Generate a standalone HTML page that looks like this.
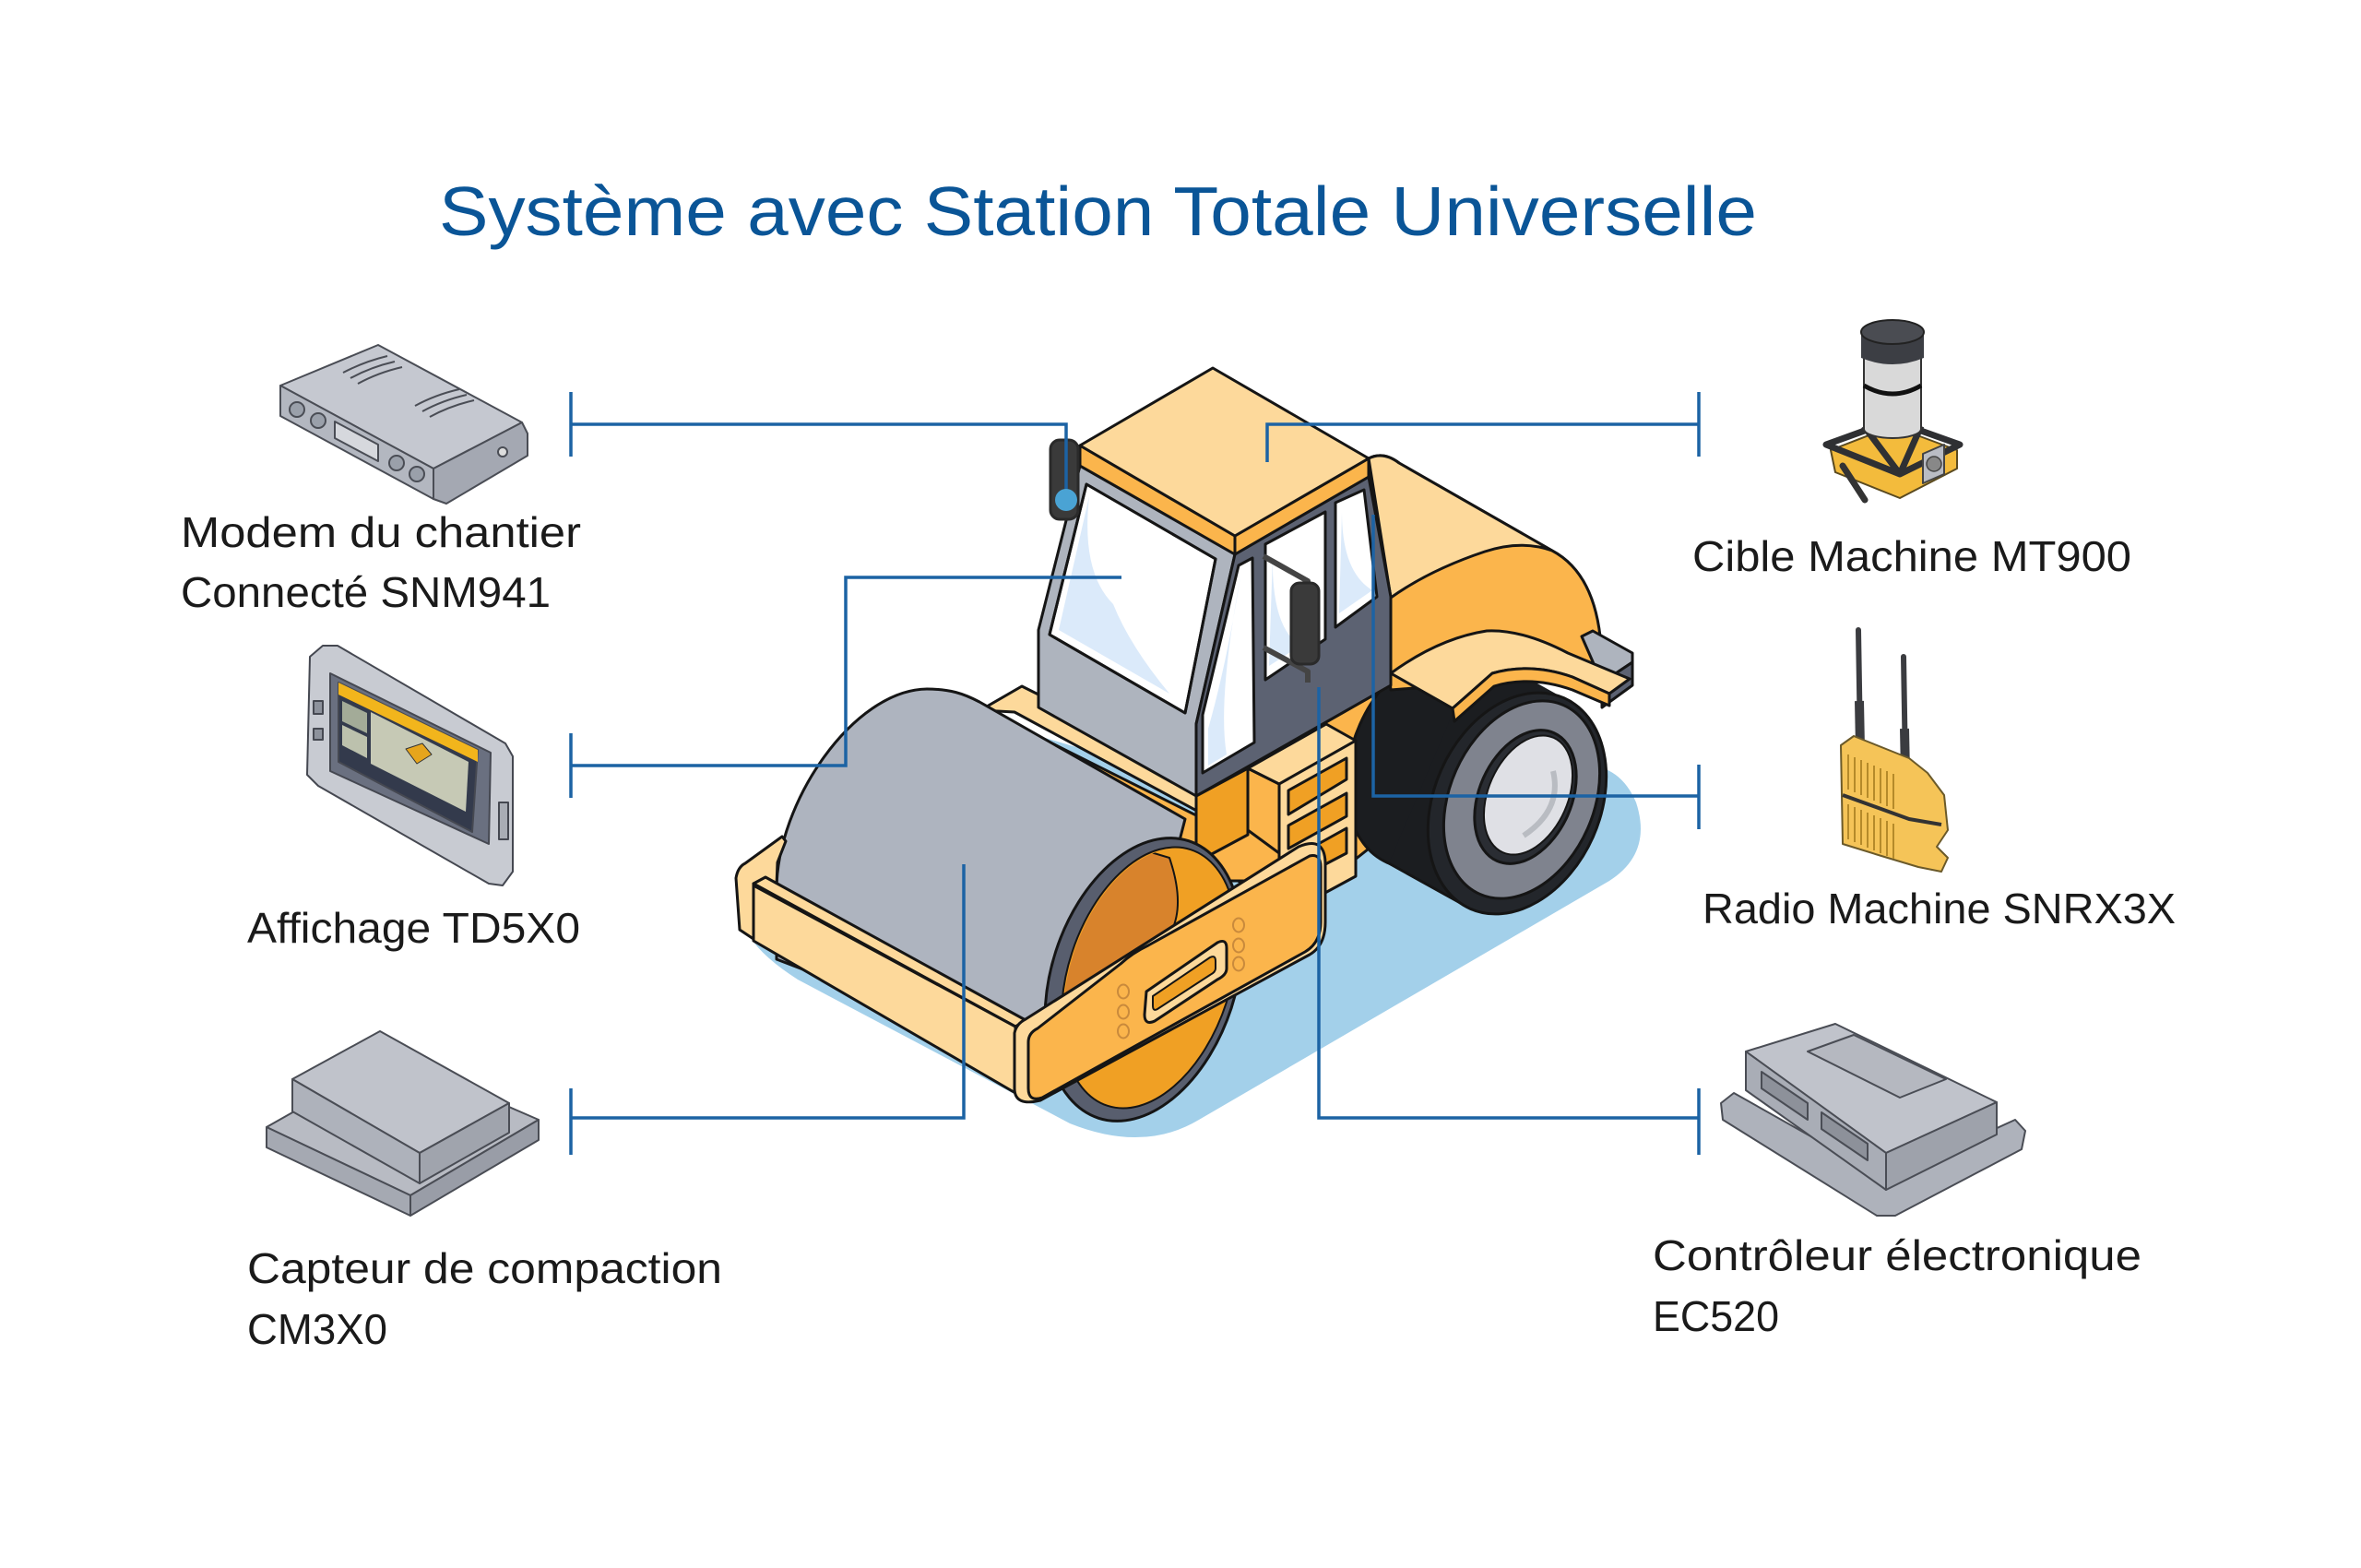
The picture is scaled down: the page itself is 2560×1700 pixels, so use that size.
<!DOCTYPE html>
<html><head><meta charset="utf-8"><style>html,body{margin:0;padding:0;background:#fff}svg{display:block}</style></head>
<body>
<svg xmlns="http://www.w3.org/2000/svg" width="2560" height="1700" viewBox="0 0 2560 1700" font-family="'Liberation Sans', 'DejaVu Sans', sans-serif">
<rect width="2560" height="1700" fill="#fff"/>

<text x="476" y="255" font-size="75" fill="#0a5597" textLength="1429" lengthAdjust="spacingAndGlyphs">Système avec Station Totale Universelle</text>

<g font-size="46" fill="#1a1a1a">
<text x="196" y="593" textLength="434" lengthAdjust="spacingAndGlyphs">Modem du chantier</text>
<text x="196" y="658" textLength="401" lengthAdjust="spacingAndGlyphs">Connecté SNM941</text>
<text x="268" y="1022" textLength="361" lengthAdjust="spacingAndGlyphs">Affichage TD5X0</text>
<text x="268" y="1391" textLength="515" lengthAdjust="spacingAndGlyphs">Capteur de compaction</text>
<text x="268" y="1457" textLength="152" lengthAdjust="spacingAndGlyphs">CM3X0</text>
<text x="1835" y="619" textLength="476" lengthAdjust="spacingAndGlyphs">Cible Machine MT900</text>
<text x="1846" y="1001" textLength="513" lengthAdjust="spacingAndGlyphs">Radio Machine SNRX3X</text>
<text x="1792" y="1377" textLength="530" lengthAdjust="spacingAndGlyphs">Contrôleur électronique</text>
<text x="1792" y="1443" textLength="137" lengthAdjust="spacingAndGlyphs">EC520</text>
</g>

<!-- ===== Devices left ===== -->
<!-- Modem -->
<g stroke="#4a4d55" stroke-width="2" stroke-linejoin="round">
<polygon points="304,418 410,374 566,458 470,508" fill="#c5c8d0"/>
<polygon points="304,418 470,508 470,541 304,451" fill="#b3b7c0"/>
<polygon points="470,508 566,458 572,470 572,494 484,546 470,541" fill="#a4a8b2"/>
<circle cx="322" cy="444" r="8" fill="#9aa0aa"/>
<circle cx="345" cy="456" r="8" fill="#9aa0aa"/>
<circle cx="430" cy="502" r="8" fill="#9aa0aa"/>
<circle cx="452" cy="514" r="8" fill="#9aa0aa"/>
<polygon points="363,457 410,482 410,500 363,475" fill="#d6d8dd"/>
<path d="M372,404 Q395,392 420,386 M380,410 Q402,398 428,392 M388,416 Q410,404 436,398 M450,440 Q472,428 498,422 M458,446 Q480,434 506,428 M466,452 Q488,440 514,434" fill="none"/>
<circle cx="545" cy="490" r="5" fill="#ddd"/>
</g>

<!-- Display TD5X0 -->
<g stroke="#454851" stroke-width="2" stroke-linejoin="round">
<polygon points="336,712 350,700 366,700 548,806 556,820 556,945 545,960 530,958 345,852 333,840" fill="#c8cbd2"/>
<polygon points="358,730 532,816 530,915 358,836" fill="#6a7080"/>
<polygon points="367,740 518,813 512,902 367,826" fill="#333a4c"/>
<polygon points="367,740 518,813 518,826 367,753" fill="#f2b51c" stroke="none"/>
<polygon points="402,772 508,826 505,880 402,828" fill="#c6c9b5" stroke="none"/>
<polygon points="371,760 398,773 398,795 371,782" fill="#a3ab98" stroke="none"/>
<polygon points="371,786 398,799 398,822 371,808" fill="#bcc1ad" stroke="none"/>
<polygon points="440,812 458,806 468,818 452,828" fill="#e6a51c" stroke="#333" stroke-width="1"/>
<rect x="340" y="760" width="10" height="14" fill="#8d929c"/>
<rect x="340" y="790" width="10" height="12" fill="#8d929c"/>
<rect x="541" y="870" width="10" height="40" fill="#a9adb5"/>
</g>

<!-- Compaction sensor -->
<g stroke="#4a4d55" stroke-width="2" stroke-linejoin="round">
<polygon points="289,1222 425,1145 584,1214 445,1296" fill="#b8bbc3"/>
<polygon points="289,1222 445,1296 445,1318 289,1244" fill="#a5a9b2"/>
<polygon points="445,1296 584,1214 584,1236 445,1318" fill="#999da7"/>
<polygon points="317,1170 412,1118 552,1196 455,1250" fill="#c0c3cb"/>
<polygon points="317,1170 455,1250 455,1283 317,1205" fill="#aeb2bb"/>
<polygon points="455,1250 552,1196 552,1228 455,1283" fill="#a0a4ad"/>
</g>

<!-- ===== Devices right ===== -->
<!-- MT900 -->
<g stroke-linejoin="round">
<polygon points="1985,488 2052,462 2122,488 2122,508 2060,540 1990,512" fill="#f3bb3c" stroke="#5a4a20" stroke-width="2"/>
<path d="M1980,482 L2052,456 L2125,482 L2060,514 Z M2021,462 L2060,514 M2083,462 L2060,514" fill="none" stroke="#2f3033" stroke-width="7"/>
<ellipse cx="2052" cy="465" rx="31" ry="10" fill="#d9d9d9" stroke="#333" stroke-width="2"/>
<rect x="2021" y="378" width="62" height="87" fill="#d9d9d9"/>
<path d="M2021,378 V465 M2083,378 V465" stroke="#333" stroke-width="2"/>
<path d="M2021,418 Q2052,436 2083,418" fill="none" stroke="#111" stroke-width="5"/>
<rect x="2018" y="360" width="68" height="28" fill="#3c3e44"/>
<path d="M2018,388 Q2052,402 2086,388" fill="#3c3e44"/>
<ellipse cx="2052" cy="360" rx="34" ry="13" fill="#4a4c52" stroke="#222" stroke-width="2"/>
<line x1="1998" y1="505" x2="2022" y2="542" stroke="#333" stroke-width="7" stroke-linecap="round"/>
<polygon points="2085,492 2108,482 2108,514 2085,524" fill="#b9bcc4" stroke="#444" stroke-width="2"/>
<circle cx="2097" cy="503" r="8" fill="#888" stroke="#444" stroke-width="1.5"/>
</g>

<!-- Radio SNRX3X -->
<g stroke-linejoin="round">
<line x1="2015" y1="683" x2="2017" y2="805" stroke="#3b3c40" stroke-width="6" stroke-linecap="round"/>
<line x1="2016" y1="760" x2="2017" y2="812" stroke="#3b3c40" stroke-width="10"/>
<line x1="2064" y1="712" x2="2066" y2="832" stroke="#3b3c40" stroke-width="6" stroke-linecap="round"/>
<line x1="2065" y1="790" x2="2066" y2="838" stroke="#3b3c40" stroke-width="10"/>
<polygon points="1996,808 2010,798 2070,822 2090,838 2108,862 2112,900 2100,918 2112,930 2105,945 2080,940 2040,928 1998,915" fill="#f5c458" stroke="#6b5a2a" stroke-width="2"/>
<path d="M1998,862 L2070,888 L2105,894" fill="none" stroke="#333" stroke-width="4"/>
<path d="M2004,818V856 M2011,821V859 M2018,824V862 M2025,827V865 M2032,830V868 M2039,833V871 M2046,836V874 M2053,839V877 M2004,872V910 M2011,875V913 M2018,878V916 M2025,881V919 M2032,884V922 M2039,887V925 M2046,890V928 M2053,893V931" stroke="#b58a2a" stroke-width="2"/>
</g>

<!-- EC520 -->
<g stroke="#4a4d55" stroke-width="2" stroke-linejoin="round">
<polygon points="1866,1196 1880,1185 2045,1278 2185,1214 2196,1226 2192,1246 2055,1318 2035,1318 1868,1214" fill="#aeb2bb"/>
<polygon points="1893,1140 1990,1110 2165,1195 2045,1250" fill="#c0c3cb"/>
<polygon points="1893,1140 2045,1250 2045,1290 1893,1182" fill="#a9adb6"/>
<polygon points="2045,1250 2165,1195 2165,1230 2045,1290" fill="#9ea2ab"/>
<polygon points="1910,1162 1960,1196 1960,1214 1910,1180" fill="#8d919a"/>
<polygon points="1975,1206 2025,1240 2025,1258 1975,1224" fill="#8d919a"/>
<polygon points="1960,1140 2060,1190 2110,1170 2010,1122" fill="#b5b8c0"/>
</g>

<!-- ===== Roller ===== -->
<path d="M805,1000 Q815,1030 865,1062 L1160,1218 Q1240,1250 1300,1214 L1745,955 Q1792,925 1774,870 Q1756,828 1715,830 L1400,880 L1100,790 Z" fill="#a3d0ea"/>

<g stroke="#151515" stroke-width="3" stroke-linejoin="round">
<!-- back rail -->
<polygon points="1085,778 1425,948 1425,1000 1085,815" fill="#fbb54c"/>
<polygon points="1063,770 1108,744 1128,754 1128,766 1425,935 1425,948 1100,772" fill="#fdd99b"/>

<!-- drum -->
<path d="M842,965 C842,870 925,748 1005,747 C1030,747 1045,752 1062,761 L1285,888 L1240,1062 L1130,1150 L842,1040 Z" fill="#aeb4bf"/>

<!-- body under cab -->
<polygon points="1297,863 1508,743 1560,745 1560,860 1440,955 1297,955" fill="#fbb54c"/>

<!-- tire -->
<ellipse cx="1555" cy="821" rx="88" ry="125" transform="rotate(24 1555 821)" fill="#1b1d20"/>
<polygon points="1604,706 1694,756 1596,986 1506,936" fill="#1b1d20" stroke="none"/>
<path d="M1506,936 L1596,986" fill="none"/>
<ellipse cx="1645" cy="871" rx="90" ry="125" transform="rotate(24 1645 871)" fill="#23262b"/>
<ellipse cx="1650" cy="867" rx="78" ry="112" transform="rotate(24 1650 867)" fill="#7f838e"/>
<ellipse cx="1654" cy="864" rx="50" ry="76" transform="rotate(24 1654 864)" fill="#2a2d33"/>
<ellipse cx="1657" cy="862" rx="43" ry="68" transform="rotate(24 1657 862)" fill="#dfe0e5" stroke-width="2"/>
<path d="M1684,836 Q1694,878 1652,906" fill="none" stroke="#b9bcc2" stroke-width="6"/>

<!-- hood -->
<path d="M1484,497 Q1500,489 1517,502 L1683,597 Q1730,622 1736,700 L1736,730 L1508,748 Z" fill="#fbb54c"/>
<path d="M1484,497 Q1500,489 1517,502 L1683,597 Q1650,585 1610,598 Q1550,618 1508,648 Z" fill="#fdd99b"/>

<!-- gray block -->
<polygon points="1715,690 1727,684 1770,708 1770,718 1737,740" fill="#aeb4be"/>
<polygon points="1737,740 1770,718 1770,743 1737,767" fill="#5c6272"/>

<!-- fender -->
<path d="M1508,730 Q1560,692 1612,684 Q1650,682 1700,708 L1767,736 L1745,752 L1705,734 Q1660,718 1618,730 L1575,768 Z" fill="#fdd99b"/>
<path d="M1575,768 L1618,730 Q1660,718 1705,734 L1745,752 L1745,765 L1705,748 Q1660,732 1620,744 L1577,782 Z" fill="#fbb54c"/>

<!-- cab front face -->
<polygon points="1171,505 1339,601 1297,785 1297,863 1126,767 1126,683" fill="#aeb4be"/>
<polygon points="1178,525 1318,606 1285,773 1138,688" fill="#fff"/>
<path d="M1181,538 Q1172,620 1207,655 Q1225,700 1268,752 L1148,683 Z" fill="#dbeafa" stroke="none"/>
<polygon points="1178,525 1318,606 1285,773 1138,688" fill="none"/>

<!-- cab side -->
<polygon points="1339,601 1484,517 1508,647 1508,743 1297,863 1297,785" fill="#5c6272"/>
<polygon points="1343,613 1358,605 1360,805 1304,838 1304,775" fill="#fff"/>
<path d="M1345,625 Q1330,720 1310,790 L1310,830 L1330,818 Q1320,760 1345,625 Z" fill="#dbeafa" stroke="none"/>
<polygon points="1372,590 1437,555 1437,693 1372,737" fill="#fff"/>
<path d="M1380,600 Q1378,680 1410,700 L1376,722 Z" fill="#dbeafa" stroke="none"/>
<polygon points="1448,545 1479,531 1493,647 1448,680" fill="#fff"/>
<path d="M1455,555 Q1455,620 1488,640 L1452,665 Z" fill="#dbeafa" stroke="none"/>
<path d="M1370,603 L1418,630 L1418,642 M1370,702 L1418,728 L1418,740" fill="none" stroke="#444" stroke-width="6"/>
<rect x="1400" y="632" width="30" height="88" rx="9" fill="#3a3a3a" stroke="#2a2a2a"/>

<!-- roof -->
<polygon points="1171,483 1339,581 1339,601 1171,505" fill="#fbb54c"/>
<polygon points="1339,581 1484,497 1484,517 1339,601" fill="#fbb54c"/>
<polygon points="1171,483 1315,399 1484,497 1339,581" fill="#fdd99b"/>

<!-- ladder -->
<polygon points="1297,863 1353,833 1353,905 1297,935" fill="#f0a024"/>
<polygon points="1353,833 1387,850 1387,925 1353,900" fill="#fbb54c"/>
<polygon points="1353,833 1438,785 1470,803 1387,850" fill="#fdd99b"/>
<polygon points="1387,850 1470,803 1470,950 1387,995" fill="#fdd99b"/>
<polygon points="1397,857 1460,822 1460,845 1397,883" fill="#f0a024"/>
<polygon points="1397,895 1460,860 1460,885 1397,920" fill="#f0a024"/>
<polygon points="1397,933 1460,898 1460,925 1397,958" fill="#f0a024"/>

<!-- front frame -->
<path d="M817,1018 L802,1008 L798,952 Q800,940 808,936 L848,907 L852,912 L843,935 L842,960 L817,958 Z" fill="#fdd99b"/>
<polygon points="817,958 830,951 1112,1106 1101,1113" fill="#fdd99b"/>
<polygon points="817,960 1101,1113 1101,1185 817,1020" fill="#fdd99b"/>

<!-- drum end disc -->
<ellipse cx="1240" cy="1062" rx="100" ry="158" transform="rotate(18 1240 1062)" fill="#585e6e"/>
<ellipse cx="1246" cy="1060" rx="88" ry="146" transform="rotate(18 1246 1060)" fill="#f0a024" stroke-width="2"/>
<clipPath id="dc"><ellipse cx="1246" cy="1060" rx="86" ry="144" transform="rotate(18 1246 1060)"/></clipPath>
<g clip-path="url(#dc)"><path d="M1100,880 L1268,930 Q1285,980 1270,1010 L1100,1250 Z" fill="#d8832c" stroke-width="2"/></g>

<!-- side plate -->
<path d="M1100,1120 Q1102,1110 1112,1105 L1408,918 Q1436,906 1437,935 L1437,1000 Q1437,1025 1420,1035 L1128,1193 Q1100,1200 1100,1180 Z" fill="#fdd99b"/>
<path d="M1115,1130 Q1115,1120 1125,1115 L1215,1045 Q1228,1033 1245,1025 L1420,928 Q1432,925 1432,940 L1432,1000 Q1432,1022 1415,1032 L1130,1190 Q1115,1195 1115,1180 Z" fill="#fbb54c"/>
<path d="M1243,1075 L1320,1022 Q1330,1017 1330,1028 L1330,1050 Q1330,1057 1320,1062 L1252,1107 Q1241,1112 1241,1100 Z" fill="#fdd99b"/>
<path d="M1250,1080 L1312,1038 Q1318,1035 1318,1042 L1318,1050 Q1318,1054 1312,1057 L1255,1094 Q1250,1097 1250,1090 Z" fill="#f0a024" stroke-width="2"/>
<g fill="none" stroke="#c98a3c" stroke-width="2">
<ellipse cx="1218" cy="1075" rx="6" ry="7.5"/><ellipse cx="1218" cy="1097" rx="6" ry="7.5"/><ellipse cx="1218" cy="1118" rx="6" ry="7.5"/>
<ellipse cx="1343" cy="1003" rx="6" ry="7.5"/><ellipse cx="1343" cy="1025" rx="6" ry="7.5"/><ellipse cx="1343" cy="1045" rx="6" ry="7.5"/>
</g>

<!-- beacon -->
<rect x="1139" y="477" width="30" height="86" rx="10" fill="#3a3a3a" stroke="#2a2a2a"/>
</g>

<!-- leaders -->
<g stroke="#1c63a4" stroke-width="3.5" fill="none">
<path d="M619,425V495M619,460H1156V542"/>
<path d="M619,795V865M619,830H917V626H1216"/>
<path d="M619,1180V1252M619,1212H1045V937"/>
<path d="M1842,425V495M1842,460H1374V501"/>
<path d="M1842,829V899M1842,863H1489V558"/>
<path d="M1842,1180V1252M1842,1212H1430V745"/>
</g>
<circle cx="1156" cy="542" r="12" fill="#4aa3d4"/>
</svg>
</body></html>
